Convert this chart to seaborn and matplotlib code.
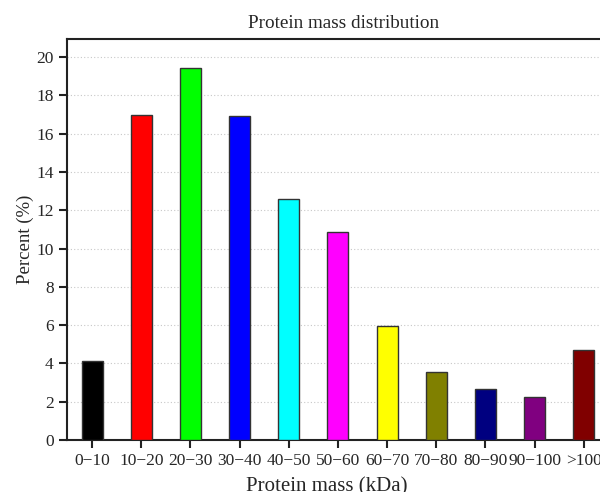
"""
Protein mass distribution bar chart.
"""
import matplotlib
matplotlib.use("Agg")
import matplotlib.pyplot as plt
import seaborn as sns
import pandas as pd

# Data
categories = ['0\u221210', '10\u221220', '20\u221230', '30\u221240', '40\u221250',
              '50\u221260', '60\u221270', '70\u221280', '80\u221290', '90\u2212100', '>100']
percent = [4.15, 17.0, 19.42, 16.95, 12.6, 10.85, 5.95, 3.56, 2.66, 2.25, 4.71]
bar_colors = ['#000000', '#ff0000', '#00ff00', '#0000ff', '#00ffff', '#ff00ff',
              '#ffff00', '#808000', '#000080', '#800080', '#800000']


def make_plot():
    sns.set_style("white")
    plt.rcParams['font.family'] = ['Liberation Serif', 'DejaVu Serif']

    df = pd.DataFrame({'mass': categories, 'percent': percent})

    fig = plt.figure(figsize=(6, 4.92), dpi=100)
    # axes runs slightly past the right edge, as in the original
    ax = fig.add_axes([0.1117, 0.1057, 0.903, 0.815])

    sns.barplot(data=df, x='mass', y='percent', hue='mass', palette=bar_colors,
                legend=False, width=0.43, edgecolor='#333333', linewidth=1.0,
                saturation=1, ax=ax, zorder=3)

    ax.set_xlim(-0.51, 10.51)
    ax.set_ylim(0, 20.95)
    ax.set_yticks(range(0, 21, 2))
    ax.yaxis.grid(True, linestyle=(0, (1, 2)), color='#c8c8c8', linewidth=0.8, zorder=0)
    ax.xaxis.grid(False)

    for side in ['left', 'bottom', 'top', 'right']:
        ax.spines[side].set_color('#222222')
        ax.spines[side].set_linewidth(1.5)

    ax.tick_params(axis='both', direction='out', length=6, width=1.5,
                   color='#222222', labelsize=12.5, bottom=True, left=True)

    ax.set_xlabel('Protein mass (kDa)', fontsize=15, labelpad=6, x=0.48)
    ax.set_ylabel('Percent (%)', fontsize=13.5, labelpad=1.5)
    ax.set_title('Protein mass distribution', fontsize=13.8, pad=8, x=0.51)

    fig.savefig('out.png', dpi=100)
    plt.close(fig)


if __name__ == "__main__":
    make_plot()
